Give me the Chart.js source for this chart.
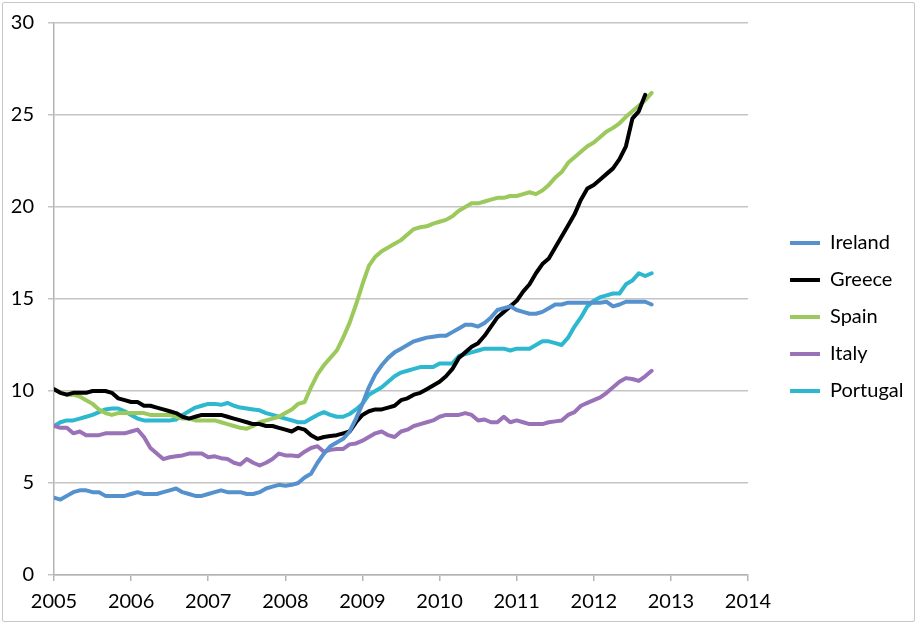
<!DOCTYPE html>
<html>
<head>
    <title>Government bond yields</title>
    <script src="https://cdn.jsdelivr.net/npm/chart.js"></script>
    <style>
        body { margin: 0; background: #fff; }
        .chart-container { position: relative; width: 918px; height: 626px; }
        .frame {
            position: absolute; left: 2px; top: 2px; width: 911px; height: 618px;
            border: 1.5px solid #c6c6c6; border-radius: 2px; pointer-events: none;
        }
    </style>
</head>
<body>
    <div class="chart-container">
        <canvas id="yieldChart" width="918" height="626"></canvas>
        <div class="frame"></div>
    </div>

    <script>
        // monthly values, Jan 2005 onwards
        const startYear = 2005;
        const yearTicks = [2005, 2006, 2007, 2008, 2009, 2010, 2011, 2012, 2013, 2014];

        const ireland = [
            4.2, 4.1, 4.3, 4.5, 4.6, 4.6, 4.5, 4.5, 4.3, 4.3, 4.3, 4.3,
            4.4, 4.5, 4.4, 4.4, 4.4, 4.5, 4.6, 4.7, 4.5, 4.4, 4.3, 4.3,
            4.4, 4.5, 4.6, 4.5, 4.5, 4.5, 4.4, 4.4, 4.5, 4.7, 4.8, 4.9,
            4.85, 4.9, 5.0, 5.3, 5.5, 6.1, 6.6, 7.0, 7.2, 7.4, 7.8, 8.5,
            9.3, 10.2, 10.9, 11.4, 11.8, 12.1, 12.3, 12.5, 12.7, 12.8, 12.9, 12.95,
            13.0, 13.0, 13.2, 13.4, 13.6, 13.6, 13.5, 13.7, 14.0, 14.4, 14.5, 14.6,
            14.4, 14.3, 14.2, 14.2, 14.3, 14.5, 14.7, 14.7, 14.8, 14.8, 14.8, 14.8,
            14.8, 14.8, 14.85, 14.6, 14.7, 14.85, 14.85, 14.85, 14.85, 14.7
        ];
        const greece = [
            10.1, 9.9, 9.8, 9.9, 9.9, 9.9, 10.0, 10.0, 10.0, 9.9, 9.6, 9.5,
            9.4, 9.4, 9.2, 9.2, 9.1, 9.0, 8.9, 8.8, 8.6, 8.5, 8.6, 8.7,
            8.7, 8.7, 8.7, 8.6, 8.5, 8.4, 8.3, 8.2, 8.2, 8.1, 8.1, 8.0,
            7.9, 7.8, 8.0, 7.9, 7.6, 7.4, 7.5, 7.55, 7.6, 7.7, 7.8, 8.3,
            8.7, 8.9, 9.0, 9.0, 9.1, 9.2, 9.5, 9.6, 9.8, 9.9, 10.1, 10.3,
            10.5, 10.8, 11.2, 11.8, 12.1, 12.4, 12.6, 13.0, 13.5, 14.0, 14.3, 14.6,
            14.9, 15.4, 15.8, 16.4, 16.9, 17.2, 17.8, 18.4, 19.0, 19.6, 20.4, 21.0,
            21.2, 21.5, 21.8, 22.1, 22.6, 23.3, 24.8, 25.2, 26.1
        ];
        const spain = [
            10.1, 9.9, 9.8, 9.8, 9.7, 9.5, 9.3, 9.0, 8.8, 8.7, 8.8, 8.8,
            8.8, 8.8, 8.8, 8.7, 8.7, 8.7, 8.7, 8.6, 8.5, 8.5, 8.4, 8.4,
            8.4, 8.4, 8.3, 8.2, 8.1, 8.0, 7.95, 8.1, 8.3, 8.4, 8.5, 8.6,
            8.8, 9.0, 9.3, 9.4, 10.2, 10.9, 11.4, 11.8, 12.2, 12.9, 13.7, 14.7,
            15.8, 16.8, 17.3, 17.6, 17.8, 18.0, 18.2, 18.5, 18.8, 18.9, 18.95, 19.1,
            19.2, 19.3, 19.5, 19.8, 20.0, 20.2, 20.2, 20.3, 20.4, 20.5, 20.5, 20.6,
            20.6, 20.7, 20.8, 20.7, 20.9, 21.2, 21.6, 21.9, 22.4, 22.7, 23.0, 23.3,
            23.5, 23.8, 24.1, 24.3, 24.55, 24.9, 25.2, 25.5, 25.8, 26.2
        ];
        const italy = [
            8.1, 8.0, 8.0, 7.7, 7.8, 7.6, 7.6, 7.6, 7.7, 7.7, 7.7, 7.7,
            7.8, 7.9, 7.5, 6.9, 6.6, 6.3, 6.4, 6.45, 6.5, 6.6, 6.6, 6.6,
            6.4, 6.45, 6.35, 6.3, 6.1, 6.0, 6.3, 6.1, 5.95, 6.1, 6.3, 6.6,
            6.5, 6.5, 6.45, 6.7, 6.9, 7.0, 6.7, 6.8, 6.85, 6.85, 7.1, 7.15,
            7.3, 7.5, 7.7, 7.8, 7.6, 7.5, 7.8, 7.9, 8.1, 8.2, 8.3, 8.4,
            8.6, 8.7, 8.7, 8.7, 8.8, 8.7, 8.4, 8.45, 8.3, 8.3, 8.6, 8.3,
            8.4, 8.3, 8.2, 8.2, 8.2, 8.3, 8.35, 8.4, 8.7, 8.85, 9.2, 9.35,
            9.5, 9.65, 9.9, 10.2, 10.5, 10.7, 10.65, 10.55, 10.8, 11.1
        ];
        const portugal = [
            8.1, 8.3, 8.4, 8.4, 8.5, 8.6, 8.7, 8.85, 9.0, 9.05, 9.05, 8.9,
            8.7, 8.5, 8.4, 8.4, 8.4, 8.4, 8.4, 8.45, 8.7, 8.9, 9.1, 9.2,
            9.3, 9.3, 9.25, 9.35, 9.2, 9.1, 9.05, 9.0, 8.95, 8.8, 8.7, 8.6,
            8.5, 8.4, 8.3, 8.3, 8.5, 8.7, 8.85, 8.7, 8.6, 8.6, 8.75, 9.0,
            9.3, 9.8, 10.0, 10.2, 10.5, 10.8, 11.0, 11.1, 11.2, 11.3, 11.3, 11.3,
            11.5, 11.5, 11.5, 11.9, 12.0, 12.1, 12.2, 12.3, 12.3, 12.3, 12.3, 12.2,
            12.3, 12.3, 12.3, 12.5, 12.7, 12.7, 12.6, 12.5, 12.9, 13.5, 14.0, 14.6,
            14.9, 15.1, 15.2, 15.3, 15.3, 15.8, 16.0, 16.4, 16.25, 16.4
        ];

        function toPoints(values) {
            return values.map((v, i) => ({ x: startYear + i / 12, y: v }));
        }

        function series(label, values, color) {
            return {
                label: label,
                data: toPoints(values),
                borderColor: color,
                backgroundColor: color,
                borderWidth: 4,
                borderCapStyle: 'round',
                borderJoinStyle: 'round',
                pointRadius: 0,
                tension: 0
            };
        }

        const axisFont = { family: 'Lato', size: 20 };

        // fixed box sizes so the plot area sits where it does in the original
        function fixBox(scale, size) {
            if (scale.isHorizontal()) scale.height = size; else scale.width = size;
            scale.paddingTop = 0;
            scale.paddingBottom = 0;
        }

        new Chart(document.getElementById('yieldChart'), {
            type: 'line',
            data: {
                datasets: [
                    series('Ireland', ireland, '#5591cd'),
                    series('Greece', greece, '#000000'),
                    series('Spain', spain, '#9bc95b'),
                    series('Italy', italy, '#9a72b8'),
                    series('Portugal', portugal, '#2db8d0')
                ]
            },
            options: {
                responsive: false,
                animation: false,
                layout: { padding: { left: 10, right: 4.5, top: 23, bottom: 15 } },
                plugins: {
                    tooltip: { enabled: false },
                    legend: {
                        position: 'right',
                        labels: {
                            usePointStyle: true,
                            pointStyle: 'line',
                            pointStyleWidth: 30,
                            padding: 17,
                            color: '#000',
                            font: axisFont
                        }
                    }
                },
                scales: {
                    x: {
                        type: 'linear',
                        min: yearTicks[0],
                        max: yearTicks[yearTicks.length - 1],
                        afterBuildTicks: scale => { scale.ticks = yearTicks.map(v => ({ value: v })); },
                        afterFit: scale => fixBox(scale, 36),
                        ticks: { callback: v => String(v), color: '#000', font: axisFont, padding: 9, maxRotation: 0 },
                        grid: { drawOnChartArea: false, drawTicks: true, tickLength: 6, color: '#b4b4b4', lineWidth: 1.5 },
                        border: { color: '#b4b4b4', width: 1.5 }
                    },
                    y: {
                        min: 0,
                        max: 30,
                        afterFit: scale => fixBox(scale, 44),
                        ticks: { stepSize: 5, color: '#000', font: axisFont, padding: 14 },
                        grid: { color: '#c4c4c4', lineWidth: 1.5, tickLength: 6 },
                        border: { color: '#b4b4b4', width: 1.5 }
                    },
                    // empty spacer between plot and legend
                    gap: {
                        position: 'right',
                        display: true,
                        ticks: { display: false },
                        grid: { display: false },
                        border: { display: false },
                        afterFit: scale => fixBox(scale, 25)
                    }
                }
            }
        });
    </script>
</body>
</html>
